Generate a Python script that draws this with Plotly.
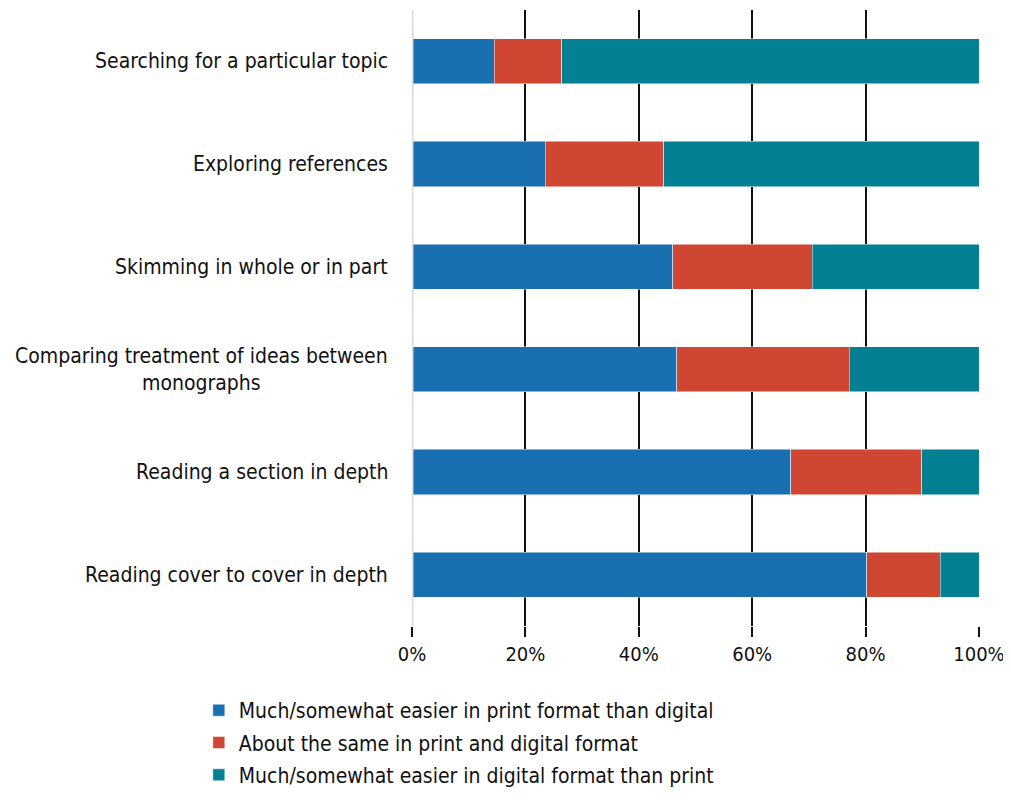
import plotly.graph_objects as go

categories = [
    "Searching for a particular topic",
    "Exploring references",
    "Skimming in whole or in part",
    "Comparing treatment of ideas between<br>monographs",
    "Reading a section in depth",
    "Reading cover to cover in depth",
]
print_easier = [14.5, 23.5, 46.0, 46.7, 66.8, 80.2]
same = [11.9, 20.9, 24.6, 30.4, 23.1, 13.0]
digital_easier = [73.6, 55.6, 29.4, 22.9, 10.1, 6.8]

series_names = [
    "Much/somewhat easier in print format than digital",
    "About the same in print and digital format",
    "Much/somewhat easier in digital format than print",
]
colors = ["#1a6fb0", "#cf4733", "#058093"]
tick_vals = [0, 20, 40, 60, 80, 100]
tick_text = ["0%", "20%", "40%", "60%", "80%", "100%"]

FONT = "Liberation Sans Narrow, Arial Narrow, DejaVu Sans Condensed, sans-serif"

fig = go.Figure()
for i, (name, vals, col) in enumerate(zip(series_names, [print_easier, same, digital_easier], colors)):
    fig.add_trace(go.Bar(
        y=categories, x=vals, name=name, orientation="h",
        legendgroup=f"g{i}",
        marker=dict(color=col, line=dict(color="rgba(255,255,255,0.6)", width=0.8)),
        width=0.44,
    ))

for cat in categories:
    fig.add_annotation(
        x=0, xref="paper", y=cat, yref="y", text=cat,
        xanchor="right", xshift=-22, align="center", showarrow=False,
        font=dict(family=FONT, size=21, color="#111111"),
    )

fig.update_layout(
    barmode="stack",
    width=1003, height=796,
    margin=dict(l=404, r=32, t=2, b=178),
    paper_bgcolor="white", plot_bgcolor="white",
    font=dict(family=FONT, size=21, color="#111111"),
    showlegend=True,
    legend=dict(
        orientation="v", x=-0.376, xanchor="left", y=-0.104, yanchor="top",
        font=dict(family=FONT, size=21, color="#111111"),
        traceorder="grouped", itemwidth=30, tracegroupgap=2,
    ),
    xaxis=dict(
        range=[0, 100], tickvals=tick_vals, ticktext=tick_text,
        showgrid=True, gridcolor="#111111", gridwidth=2,
        ticks="outside", ticklen=10, tickcolor="#111111", tickwidth=2,
        zeroline=False, showline=False, automargin=False,
        tickfont=dict(family=FONT, size=20, color="#111111"),
    ),
    yaxis=dict(
        autorange="reversed", showgrid=False, zeroline=False,
        showline=False, ticks="", showticklabels=False, automargin=False,
    ),
    bargap=0.56,
)
fig.add_shape(type="line", xref="x", yref="paper", x0=0, x1=0, y0=0, y1=1,
              line=dict(color="#d9d9d9", width=3), layer="above")
fig.write_html("out.html")
